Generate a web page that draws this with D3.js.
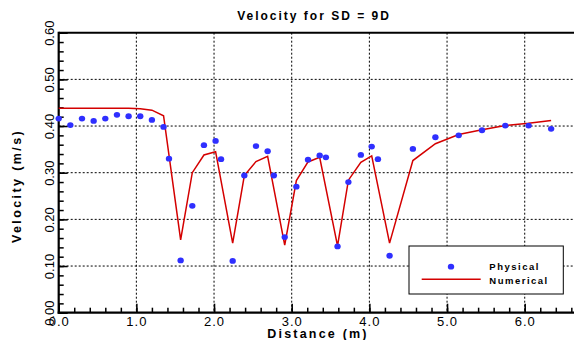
<!DOCTYPE html>
<html>
<head>
<meta charset="utf-8">
<script src="https://cdn.jsdelivr.net/npm/d3@7"></script>
<style>
  html, body { margin: 0; padding: 0; background: #fff; overflow: hidden; }
  svg { display: block; font-family: Arial, "Liberation Sans", sans-serif; }
</style>
</head>
<body>
<svg id="chart" width="574" height="340"></svg>
<script>
// ---- data ----
const physicalX = [0.00,0.15,0.30,0.45,0.60,0.75,0.90,1.05,1.20,1.35,1.42,1.57,1.72,1.87,2.02,2.09,2.24,2.39,2.54,2.69,2.77,2.91,3.06,3.21,3.36,3.44,3.59,3.73,3.89,4.03,4.11,4.26,4.56,4.85,5.15,5.45,5.75,6.05,6.34];
const physicalY = [0.416,0.402,0.416,0.411,0.416,0.424,0.421,0.421,0.413,0.398,0.330,0.112,0.229,0.359,0.368,0.329,0.111,0.294,0.357,0.346,0.294,0.162,0.270,0.328,0.337,0.333,0.142,0.280,0.338,0.356,0.329,0.122,0.351,0.376,0.380,0.391,0.401,0.401,0.394];
const numericalX = [0.00,0.90,1.05,1.20,1.35,1.57,1.72,1.87,2.02,2.24,2.39,2.54,2.69,2.91,3.06,3.21,3.36,3.59,3.73,3.89,4.03,4.26,4.56,4.85,5.15,5.45,5.75,6.05,6.34];
const numericalY = [0.438,0.438,0.437,0.434,0.422,0.156,0.300,0.338,0.345,0.149,0.294,0.324,0.335,0.145,0.283,0.323,0.333,0.143,0.284,0.322,0.336,0.149,0.326,0.362,0.382,0.392,0.401,0.406,0.412];
const xTicks = [0,1,2,3,4,5,6];
const xMinorTicks = d3.range(0, 6.81, 0.2);
const yTicks = [0,0.1,0.2,0.3,0.4,0.5,0.6];
const yMinorTicks = d3.range(0, 0.601, 0.02);
const seriesNames = ["Physical","Numerical"];
const titleText = "Velocity for SD = 9D";
const xTitle = "Distance (m)";
const yTitle = "Velocity (m/s)";

// ---- layout ----
const svg = d3.select("#chart");
const pLeft = 58.7, pTop = 32.7, pBottom = 312.7;
const x = d3.scaleLinear().domain([0, 7]).range([pLeft, pLeft + 7 * 77.67]);
const y = d3.scaleLinear().domain([0, 0.6]).range([pBottom, pTop]);
const blue = "#2f2fff", red = "#d40000";

// grid
const grid = svg.append("g");
grid.selectAll("line.gx").data(xTicks.filter(d => d > 0)).join("line")
  .attr("x1", d => x(d)).attr("x2", d => x(d)).attr("y1", pTop).attr("y2", pBottom)
  .attr("stroke", "#000").attr("stroke-width", 1).attr("stroke-dasharray", "2,2");
grid.selectAll("line.gy").data(yTicks.filter(d => d > 0 && d < 0.6)).join("line")
  .attr("y1", d => y(d)).attr("y2", d => y(d)).attr("x1", pLeft).attr("x2", 574)
  .attr("stroke", "#000").attr("stroke-width", 1).attr("stroke-dasharray", "2,2");

// top border
svg.append("line").attr("x1", pLeft).attr("x2", 574).attr("y1", pTop).attr("y2", pTop)
  .attr("stroke", "#000").attr("stroke-width", 2);

// x axis
const gxMinor = svg.append("g").attr("transform", `translate(0,${pBottom})`)
  .call(d3.axisBottom(x).tickValues(xMinorTicks).tickSize(-5).tickFormat(""));
const gx = svg.append("g").attr("transform", `translate(0,${pBottom})`)
  .call(d3.axisBottom(x).tickValues(xTicks).tickSize(-9).tickPadding(4).tickFormat(d3.format(".1f")));
[gxMinor, gx].forEach(g => {
  g.select(".domain").remove();
  g.selectAll(".tick line").attr("stroke", "#000").attr("stroke-width", 1.5);
});
gx.selectAll(".tick text").attr("font-size", 13).attr("font-family", "Arial, 'Liberation Sans', sans-serif")
  .attr("fill", "#000").style("letter-spacing", "1px");
svg.append("line").attr("x1", pLeft - 1).attr("x2", 574).attr("y1", pBottom).attr("y2", pBottom)
  .attr("stroke", "#000").attr("stroke-width", 2.2);

// y axis
const gyMinor = svg.append("g").attr("transform", `translate(${pLeft},0)`)
  .call(d3.axisLeft(y).tickValues(yMinorTicks).tickSize(-5).tickFormat(""));
const gy = svg.append("g").attr("transform", `translate(${pLeft},0)`)
  .call(d3.axisLeft(y).tickValues(yTicks).tickSize(-9).tickFormat(d3.format(".2f")));
[gyMinor, gy].forEach(g => {
  g.select(".domain").remove();
  g.selectAll(".tick line").attr("stroke", "#000").attr("stroke-width", 1.5);
});
gy.selectAll(".tick text")
  .attr("x", 0).attr("dy", 0)
  .attr("text-anchor", "middle")
  .attr("transform", "translate(-4.5,0) rotate(-90)")
  .attr("font-size", 13).attr("font-family", "Arial, 'Liberation Sans', sans-serif").attr("fill", "#000");
svg.append("line").attr("x1", pLeft).attr("x2", pLeft).attr("y1", pTop - 1).attr("y2", pBottom + 1)
  .attr("stroke", "#000").attr("stroke-width", 2.2);

// numerical line
const line = d3.line().x(d => x(d[0])).y(d => y(d[1]));
svg.append("path").datum(numericalX.map((v, i) => [v, numericalY[i]]))
  .attr("d", line).attr("fill", "none").attr("stroke", red).attr("stroke-width", 1.5)
  .attr("stroke-linejoin", "miter");

// physical points
svg.append("g").selectAll("ellipse").data(physicalX.map((v, i) => [v, physicalY[i]])).join("ellipse")
  .attr("cx", d => x(d[0])).attr("cy", d => y(d[1])).attr("rx", 3.2).attr("ry", 2.9)
  .attr("fill", blue);

// titles
svg.append("text").attr("x", 314).attr("y", 20).attr("text-anchor", "middle")
  .attr("font-size", 12).attr("font-weight", "bold").style("letter-spacing", "2px").text(titleText);
svg.append("text").attr("x", 318).attr("y", 338).attr("text-anchor", "middle")
  .attr("font-size", 12.5).attr("font-weight", "bold").style("letter-spacing", "2.2px").text(xTitle);
svg.append("text").attr("transform", "translate(21,186) rotate(-90)").attr("text-anchor", "middle")
  .attr("font-size", 12.5).attr("font-weight", "bold").style("letter-spacing", "2.4px").text(yTitle);

// legend
const lg = svg.append("g");
lg.append("rect").attr("x", 409).attr("y", 246).attr("width", 154.3).attr("height", 48)
  .attr("fill", "#fff").attr("stroke", "#000").attr("stroke-width", 1);
lg.append("ellipse").attr("cx", 451).attr("cy", 266.7).attr("rx", 3.2).attr("ry", 2.9).attr("fill", blue);
lg.append("line").attr("x1", 421.7).attr("x2", 480.7).attr("y1", 279.3).attr("y2", 279.3)
  .attr("stroke", red).attr("stroke-width", 1.5);
lg.selectAll("text").data(seriesNames).join("text")
  .attr("x", 489.3).attr("y", (d, i) => 269.5 + i * 14)
  .attr("font-size", 9.5).attr("font-weight", "bold").style("letter-spacing", "1.5px").text(d => d);
</script>
</body>
</html>
